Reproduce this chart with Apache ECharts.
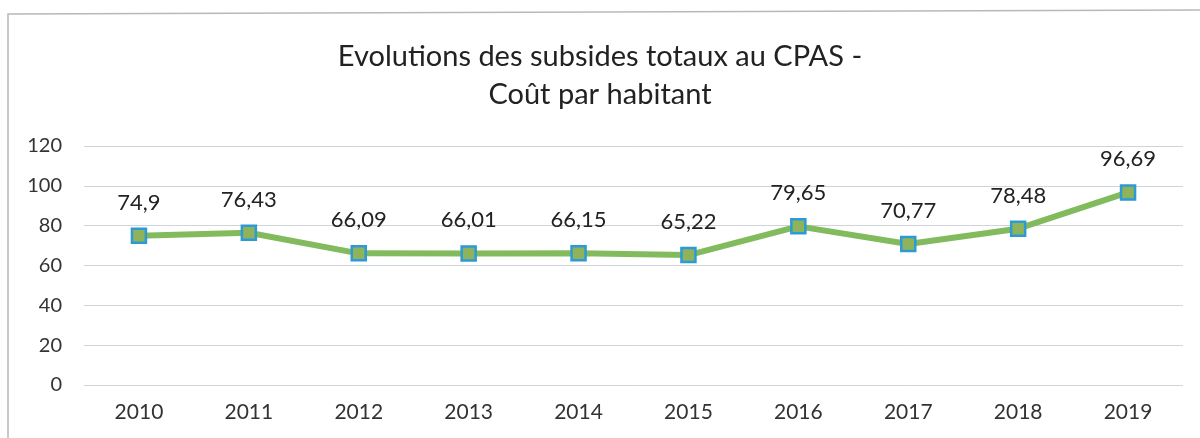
<!DOCTYPE html>
<html>
<head>
<meta charset="utf-8">
<script src="https://cdn.jsdelivr.net/npm/echarts@6/dist/echarts.min.js"></script>
<style>
html, body { margin: 0; padding: 0; background: #fff; }
#myChart { width: 1200px; height: 438px; }
</style>
</head>
<body>
<div id="myChart"></div>
<script>
// données
const years = ['2010', '2011', '2012', '2013', '2014', '2015', '2016', '2017', '2018', '2019']
const coutParHabitant = [74.9, 76.43, 66.09, 66.01, 66.15, 65.22, 79.65, 70.77, 78.48, 96.69]
const titleLines = ['Evolutions des subsides totaux au CPAS -', 'Coût par habitant']

let myChart = echarts.init(document.getElementById('myChart'))
let font = 'Lato, "Open Sans", sans-serif'

let option = {
    backgroundColor: '#ffffff',
    title: {
        text: titleLines.join('\n'),
        left: 'center',
        top: 33,
        textStyle: {
            color: '#222',
            fontSize: 29,
            fontWeight: 'normal',
            fontFamily: font,
            lineHeight: 38
        }
    },
    graphic: [
        {
            type: 'polyline',
            shape: { points: [[8, 438], [8, 14], [1200, 10]] },
            style: { stroke: '#b8b8b8', lineWidth: 1.5, fill: null }
        }
    ],
    grid: {
        left: 84,
        right: 17,
        top: 146,
        bottom: 53
    },
    xAxis: {
        type: 'category',
        data: years,
        axisLine: { show: false },
        axisTick: { show: false },
        axisLabel: {
            color: '#333',
            fontSize: 21,
            fontFamily: font,
            margin: 17
        }
    },
    yAxis: {
        type: 'value',
        min: 0,
        max: 120,
        interval: 20,
        axisLine: { show: false },
        axisTick: { show: false },
        axisLabel: {
            color: '#333',
            fontSize: 20,
            fontFamily: font,
            margin: 22
        },
        splitLine: {
            lineStyle: { color: '#cfd3da', width: 1 }
        }
    },
    series: [
        {
            name: 'Coût par habitant',
            type: 'line',
            data: coutParHabitant,
            symbol: 'rect',
            symbolSize: 14,
            lineStyle: { color: '#82bb5e', width: 6 },
            itemStyle: {
                color: '#8fb35a',
                borderColor: '#2d9ad8',
                borderWidth: 2.5
            },
            label: {
                show: true,
                position: 'top',
                distance: 14,
                color: '#222',
                fontSize: 22,
                fontFamily: font,
                formatter: p => String(p.value).replace('.', ',')
            }
        }
    ]
}
myChart.setOption(option)

window.addEventListener('resize', () => {
    myChart.resize()
})
</script>
</body>
</html>
